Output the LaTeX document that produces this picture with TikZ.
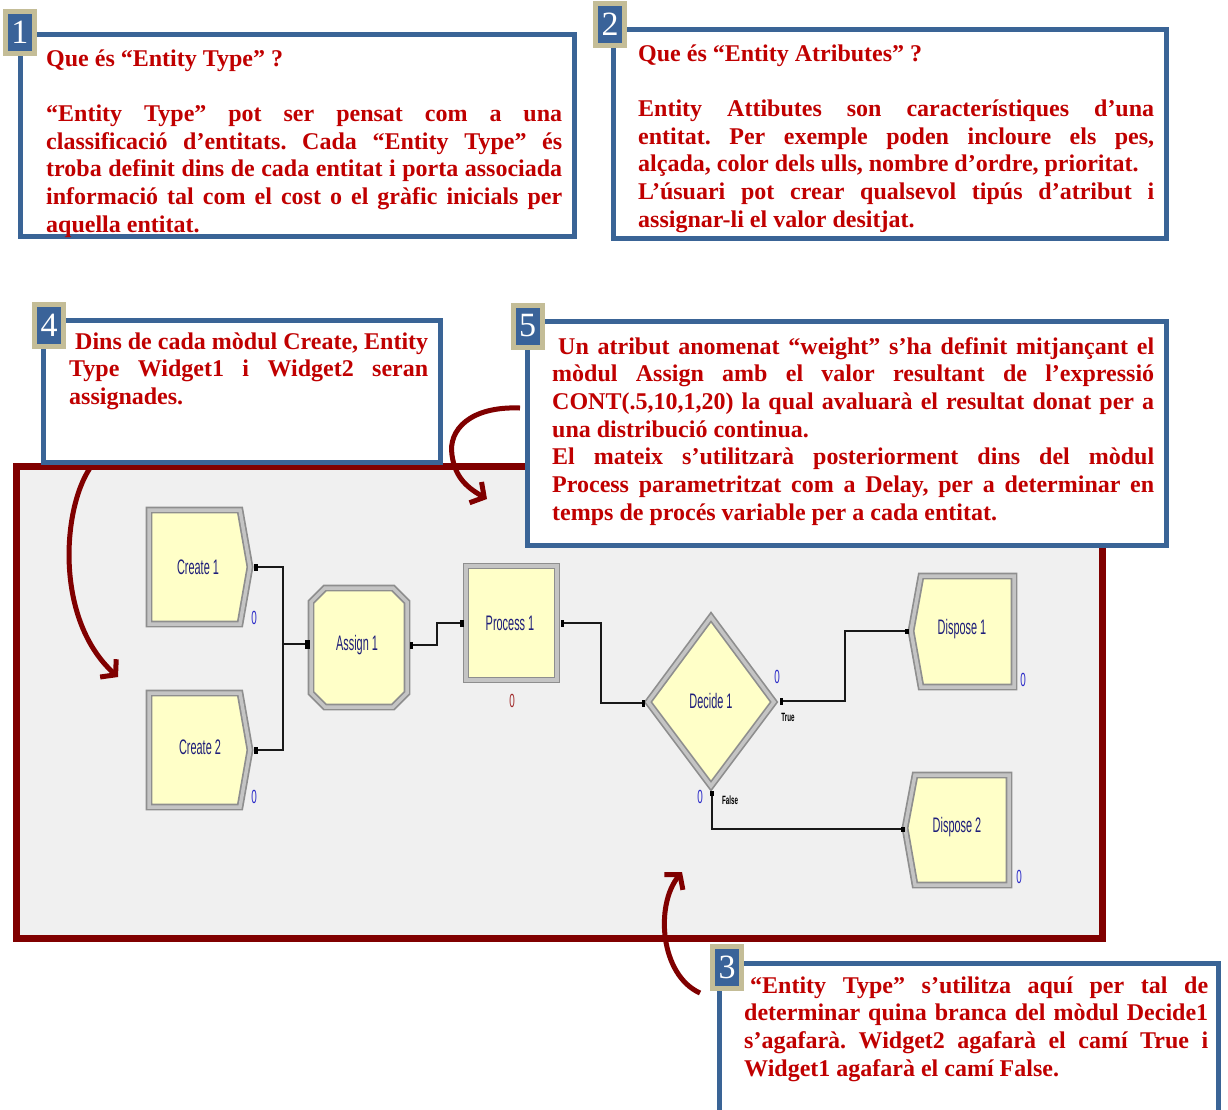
\documentclass[tikz,border=0pt]{standalone}
\usepackage{fontspec}
\usepackage{graphicx}
\setmainfont{Liberation Serif}
\newfontfamily\arenafont{Liberation Sans}
\usetikzlibrary{arrows.meta}
\definecolor{txtred}{HTML}{C00000}
\definecolor{boxblue}{HTML}{3A6496}
\definecolor{badgetan}{HTML}{C4BD97}
\definecolor{badgeblue}{HTML}{3A6399}
\definecolor{framered}{HTML}{800000}
\definecolor{framefill}{HTML}{F0F0F0}
\definecolor{modfill}{HTML}{FFFFC8}
\definecolor{modedge}{HTML}{8E8E8E}
\definecolor{modlight}{HTML}{C4C4C4}
\definecolor{modtext}{HTML}{1E1E7A}
\definecolor{cntblue}{HTML}{2A2AC8}
\definecolor{cntred}{HTML}{A02828}
\hyphenpenalty=10000
\exhyphenpenalty=10000
\frenchspacing
\newcommand{\arena}[2][21]{\scalebox{0.52}[1]{\arenafont\fontsize{#1}{#1}\selectfont #2}}
\begin{document}
\begin{tikzpicture}[x=1pt,y=-1pt,
  infobox/.style={draw=boxblue, line width=5pt, fill=white},
  badge/.style={draw=badgetan, fill=badgeblue, line width=5pt, minimum width=29pt, minimum height=42pt, inner sep=0pt, text=white, font=\fontsize{34}{34}\selectfont},
  bodytext/.style={text=txtred, font=\bfseries\fontsize{24}{27.7}\selectfont, align=justify, inner sep=0pt, anchor=base west},
  module/.style={fill=modfill, draw=modedge, double=modlight, double distance=3.5pt, line width=1.7pt, line join=miter},
  modlabel/.style={text=modtext, inner sep=0pt},
  counter/.style={text=cntblue, inner sep=0pt},
  conn/.style={draw=black!90, line width=2pt},
  port/.style={fill=black, inner sep=0pt, minimum width=4pt, minimum height=7pt},
  callout/.style={draw=framered, line width=5pt, -{Straight Barb[length=10pt,width=24pt]}}
]
\clip (0,0) rectangle (1228,1109);
\fill[white] (0,0) rectangle (1228,1109);

% frame
\draw[draw=framered, line width=7pt, fill=framefill] (16,466) rectangle (1102,938);

% ports / coordinates
\coordinate (c1out) at (256,567);
\coordinate (c2out) at (256,750);
\coordinate (j1) at (283,644);
\coordinate (a1in) at (307,644);
\coordinate (a1out) at (411,645);
\coordinate (p1in) at (462,623);
\coordinate (p1out) at (562,623);
\coordinate (d1in) at (643,703);
\coordinate (d1true) at (781,701);
\coordinate (d1false) at (712,793);
\coordinate (disp1in) at (907,631);
\coordinate (disp2in) at (903,829);

% connectors
\draw[conn] (c1out) -| (j1) -- (a1in);
\draw[conn] (c2out) -| (j1);
\draw[conn] (a1out) -- ++(26,0) |- (p1in);
\draw[conn] (p1out) -- ++(39,0) |- (d1in);
\draw[conn] (d1true) -- ++(64,0) |- (disp1in);
\draw[conn] (d1false) |- (disp2in);

% modules
\draw[module] (149,510) -- (240,510) -- (250,567) -- (240,624) -- (149,624) -- cycle;
\draw[module] (149,693) -- (240,693) -- (250,750) -- (240,807) -- (149,807) -- cycle;
\draw[module] (325,588) -- (393,588) -- (407,602) -- (407,693) -- (393,707) -- (325,707) -- (311,693) -- (311,602) -- cycle;
\draw[module] (466,566) rectangle (557,680);
\draw[module] (648,702) -- (711,617) -- (774,702) -- (711,786) -- cycle;
\draw[module] (921,576) -- (1014,576) -- (1014,687) -- (921,687) -- (911,631) -- cycle;
\draw[module] (915,775) -- (1009,775) -- (1009,885) -- (915,885) -- (905,828) -- cycle;

% port markers
\node[port] (pm1) at (c1out) {};
\node[port] (pm2) at (c2out) {};
\node[port, minimum width=5pt, minimum height=9pt] (pm3) at (a1in) {};
\node[port, minimum width=3pt] (pm4) at (a1out) {};
\node[port] (pm5) at (p1in) {};
\node[port, minimum width=3pt] (pm6) at (p1out) {};
\node[port, minimum width=3pt] (pm7) at (d1in) {};
\node[port, minimum width=3pt] (pm8) at (d1true) {};
\node[port, minimum width=4pt, minimum height=5pt] (pm9) at (d1false) {};
\node[port, minimum width=4pt, minimum height=5pt] (pm10) at (disp1in) {};
\node[port, minimum width=4pt, minimum height=5pt] (pm11) at (disp2in) {};

% module labels
\node[modlabel] (lc1) at (198,567) {\arena{Create 1}};
\node[modlabel] (lc2) at (200,747) {\arena{Create 2}};
\node[modlabel] (la1) at (357,645) {\arena{Assign 1}};
\node[modlabel] (lp1) at (510,623) {\arena{Process 1}};
\node[modlabel] (ld1) at (711,701) {\arena{Decide 1}};
\node[modlabel] (lx1) at (962,629) {\arena{Dispose 1}};
\node[modlabel] (lx2) at (957,827) {\arena{Dispose 2}};

% counters
\node[counter] (n1) at (254,618) {\arena[19]{0}};
\node[counter] (n2) at (254,797) {\arena[19]{0}};
\node[counter, text=cntred] (n3) at (512,701) {\arena[19]{0}};
\node[counter] (n4) at (777,677) {\arena[19]{0}};
\node[counter] (n5) at (700,797) {\arena[19]{0}};
\node[counter] (n6) at (1023,680) {\arena[19]{0}};
\node[counter] (n7) at (1019,877) {\arena[19]{0}};
\node[inner sep=0pt] (tt) at (788,717) {\arena[12]{\bfseries True}};
\node[inner sep=0pt] (tf) at (730,800) {\arena[12]{\bfseries False}};

% arrow inside frame (from box 4)
\coordinate (a4s) at (90,468);
\coordinate (a4e) at (118,677);
\draw[callout] (a4s) .. controls (62,510) and (55,620) .. (a4e);

% info boxes
\draw[infobox] (20,34) rectangle (574,236);
\draw[infobox] (613,29) rectangle (1166,238);
\draw[infobox] (43,320) rectangle (440,462);
\draw[infobox] (527,321) rectangle (1166,545);
\draw[infobox] (719,963) rectangle (1218,1125);

% texts
\node[bodytext, text width=516pt] (t1) at (46,66) {Que és “Entity Type” ?\par\vskip27.7pt
“Entity Type” pot ser pensat com a una\linebreak
classificació d’entitats. Cada “Entity Type” és\linebreak
troba definit dins de cada entitat i porta associada\linebreak
informació tal com el cost o el gràfic inicials per\linebreak
aquella entitat.};

\node[bodytext, text width=516pt] (t2) at (638,61) {Que és “Entity Atributes” ?\par\vskip27.7pt
Entity Attibutes son característiques d’una\linebreak
entitat. Per exemple poden incloure els pes,\linebreak
alçada, color dels ulls, nombre d’ordre, prioritat.\newline
L’úsuari pot crear qualsevol tipús d’atribut i\linebreak
assignar-li el valor desitjat.};

\node[bodytext, text width=359pt] (t4) at (69,349) {\hspace*{6pt}Dins de cada mòdul Create, Entity\linebreak
Type Widget1 i Widget2 seran\linebreak
assignades.};

\node[bodytext, text width=602pt] (t5) at (552,354) {\hspace*{6pt}Un atribut anomenat “weight” s’ha definit mitjançant el\linebreak
mòdul Assign amb el valor resultant de l’expressió\linebreak
CONT(.5,10,1,20) la qual avaluarà el resultat donat per a\linebreak
una distribució continua.\newline
El mateix s’utilitzarà posteriorment dins del mòdul\linebreak
Process parametritzat com a Delay, per a determinar en\linebreak
temps de procés variable per a cada entitat.};

\node[bodytext, text width=464pt] (t3) at (744,993) {\hspace*{6pt}“Entity Type” s’utilitza aquí per tal de\linebreak
determinar quina branca del mòdul Decide1\linebreak
s’agafarà. Widget2 agafarà el camí True i\linebreak
Widget1 agafarà el camí False.};

% badges
\node[badge] (b1) at (20,32) {1};
\node[badge] (b2) at (610,24) {2};
\node[badge] (b4) at (49,325) {4};
\node[badge] (b5) at (527.5,326) {5};
\node[badge] (b3) at (727,967) {3};

% arrows crossing the frame
\coordinate (a5s) at (520,408);
\coordinate (a5m) at (452,455);
\coordinate (a5e) at (487,499);
\draw[callout] (a5s) .. controls (470,406) and (448,430) .. (a5m) .. controls (455,478) and (468,488) .. (a5e);
\coordinate (a3s) at (700,993);
\coordinate (a3e) at (682,872);
\draw[callout] (a3s) .. controls (660,975) and (655,905) .. (a3e);
\end{tikzpicture}
\end{document}
